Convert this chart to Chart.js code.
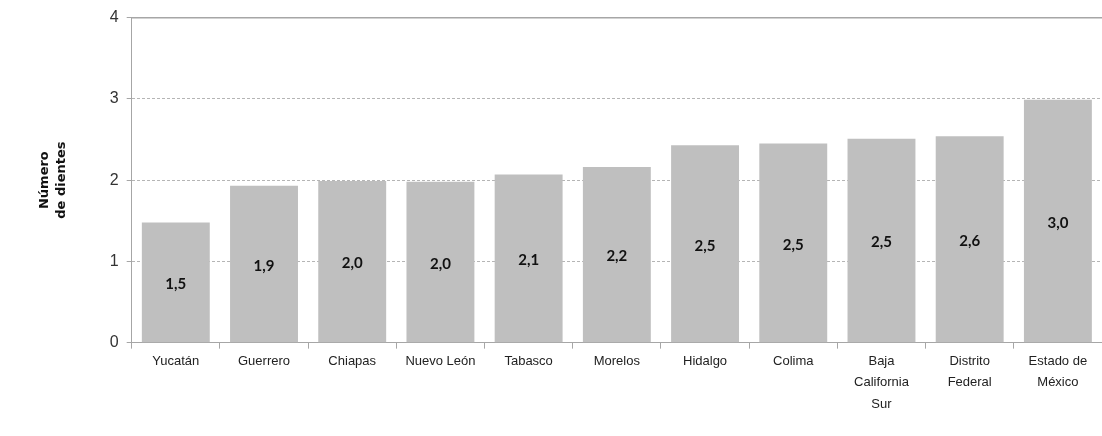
<!DOCTYPE html>
<html>
<head>
<meta charset="utf-8">
<script src="https://cdn.jsdelivr.net/npm/chart.js@4"></script>
<style>
  html, body { margin: 0; padding: 0; background: #fff; }
  #wrap { width: 1102px; height: 436px; }
</style>
</head>
<body>
<div id="wrap"><canvas id="chart"></canvas></div>
<script>
const states = [
  "Yucatán", "Guerrero", "Chiapas", "Nuevo León", "Tabasco", "Morelos",
  "Hidalgo", "Colima", ["Baja", "California", "Sur"], ["Distrito", "Federal"],
  ["Estado de", "México"]
];
const teeth = [1.48, 1.93, 1.99, 1.98, 2.07, 2.16, 2.43, 2.45, 2.51, 2.54, 2.99];
const shown = ["1,5", "1,9", "2,0", "2,0", "2,1", "2,2", "2,5", "2,5", "2,5", "2,6", "3,0"];
const yTicks = [0, 1, 2, 3, 4];

const axisGray = "#a6a6a6";

// writes the rounded value in the middle of each bar
const barValues = {
  id: "barValues",
  afterDatasetsDraw(chart) {
    const ctx = chart.ctx;
    const meta = chart.getDatasetMeta(0);
    ctx.save();
    ctx.font = "bold 15px Lato, sans-serif";
    ctx.fillStyle = "#111";
    ctx.textAlign = "center";
    ctx.textBaseline = "middle";
    meta.data.forEach((bar, i) => {
      const mid = (bar.y + bar.base) / 2;
      ctx.fillText(shown[i], bar.x, mid + 2);
    });
    ctx.restore();
  }
};

new Chart(document.getElementById("chart").getContext("2d"), {
  type: "bar",
  data: {
    labels: states,
    datasets: [{
      data: teeth,
      backgroundColor: "#bfbfbf",
      borderWidth: 0,
      categoryPercentage: 1,
      barPercentage: 0.77
    }]
  },
  options: {
    responsive: true,
    maintainAspectRatio: false,
    animation: false,
    layout: { padding: { top: 7, right: 0, left: 32, bottom: 19 } },
    plugins: {
      legend: { display: false },
      tooltip: { enabled: false }
    },
    scales: {
      x: {
        offset: true,
        grid: {
          offset: true,
          drawOnChartArea: false,
          drawTicks: true,
          tickLength: 6,
          color: axisGray
        },
        border: { color: axisGray, width: 1 },
        ticks: {
          color: "#222",
          font: { family: "'Liberation Sans Narrow', 'Liberation Sans', sans-serif", size: 13, lineHeight: 1.65 },
          maxRotation: 0,
          autoSkip: false,
          padding: 2
        }
      },
      top: {
        position: "top",
        offset: true,
        grid: { display: false },
        ticks: { display: false },
        border: { color: axisGray, width: 1.5 }
      },
      y: {
        min: 0,
        max: 4,
        afterBuildTicks(axis) {
          axis.ticks = yTicks.map(v => ({ value: v }));
        },
        grid: {
          color: "#b5b5b5",
          tickLength: 5,
          tickColor: axisGray
        },
        border: { color: axisGray, width: 1, dash: [3, 2] },
        ticks: {
          color: "#333",
          font: { family: "'Liberation Sans Narrow', 'Liberation Sans', sans-serif", size: 16 },
          padding: 8
        },
        title: {
          display: true,
          text: ["Número", "de dientes"],
          color: "#111",
          font: { family: "'DejaVu Sans', sans-serif", size: 13, weight: "bold", lineHeight: 1.3 },
          padding: { bottom: 32 }
        }
      }
    }
  },
  plugins: [barValues]
});
</script>
</body>
</html>
